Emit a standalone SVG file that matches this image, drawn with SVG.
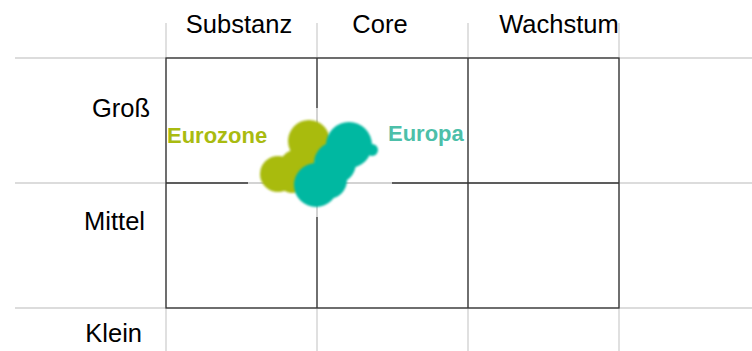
<svg xmlns="http://www.w3.org/2000/svg" width="752" height="351" viewBox="0 0 752 351">
<defs>
<filter id="soft" x="-20%" y="-20%" width="140%" height="140%"><feGaussianBlur stdDeviation="0.9"/></filter>
<style>
.lt{stroke:#d0d0d0;stroke-width:1.3;fill:none}
.dk{stroke:#333;stroke-width:1.3;fill:none}
.hd{font-family:"Liberation Sans",Arial,sans-serif;font-size:25.5px;fill:#000}
.lb{font-family:"Liberation Sans",Arial,sans-serif;font-size:22px;font-weight:bold}
</style>
</defs>
<rect width="752" height="351" fill="#fff"/>
<g id="guides">
<line class="lt" x1="15" y1="58" x2="752" y2="58"/>
<line class="lt" x1="15" y1="183" x2="752" y2="183"/>
<line class="lt" x1="15" y1="308" x2="752" y2="308"/>
<line class="lt" x1="166" y1="23" x2="166" y2="351"/>
<line class="lt" x1="317" y1="23" x2="317" y2="351"/>
<line class="lt" x1="468" y1="23" x2="468" y2="351"/>
<line class="lt" x1="619" y1="23" x2="619" y2="351"/>
</g>
<g id="grid">
<rect class="dk" x="166" y="58" width="453" height="250"/>
<line class="dk" x1="166" y1="183" x2="619" y2="183"/>
<line class="dk" x1="317" y1="58" x2="317" y2="308"/>
<line class="dk" x1="468" y1="58" x2="468" y2="308"/>
</g>
<g id="overlay">
<line x1="248" y1="183" x2="392" y2="183" stroke="#fff" stroke-width="2"/>
<line x1="317" y1="108" x2="317" y2="217" stroke="#fff" stroke-width="2"/>
<line x1="248" y1="183" x2="392" y2="183" stroke="#c4c4c4" stroke-width="1.5"/>
<line x1="317" y1="108" x2="317" y2="217" stroke="#c4c4c4" stroke-width="1.5"/>
</g>
<g id="headers">
<text class="hd" x="239" y="33" text-anchor="middle">Substanz</text>
<text class="hd" x="380" y="33" text-anchor="middle">Core</text>
<text class="hd" x="559" y="33" text-anchor="middle">Wachstum</text>
<text class="hd" x="150" y="117" text-anchor="end">Groß</text>
<text class="hd" x="145" y="230" text-anchor="end">Mittel</text>
<text class="hd" x="142" y="342" text-anchor="end">Klein</text>
</g>
<g id="eurozone">
<g fill="#a9bb10" filter="url(#soft)">
<circle cx="309" cy="141" r="21"/>
<circle cx="278" cy="174" r="18"/>
<circle cx="298" cy="168" r="19"/>
<circle cx="292" cy="180" r="13"/>
</g>
<text class="lb" x="167" y="143" fill="#a9bb10">Eurozone</text>
</g>
<g id="europa">
<g fill="#00b8a1" filter="url(#soft)">
<circle cx="349" cy="145" r="23"/>
<circle cx="335" cy="163" r="21"/>
<circle cx="316" cy="185" r="22"/>
<circle cx="328" cy="180" r="19"/>
<circle cx="372" cy="150" r="6"/>
</g>
<text class="lb" x="388" y="141" fill="#4dbfa9">Europa</text>
</g>
</svg>
